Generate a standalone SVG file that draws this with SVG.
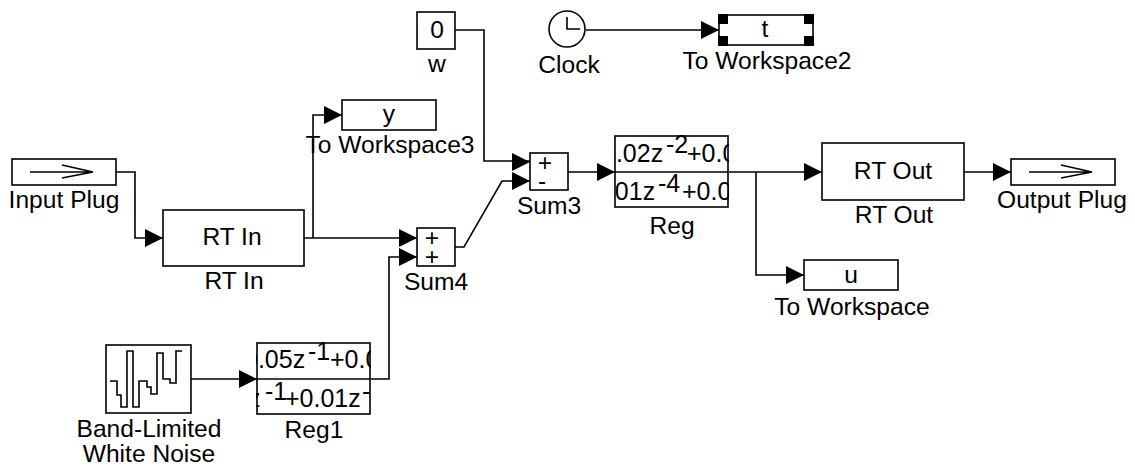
<svg xmlns="http://www.w3.org/2000/svg" width="1135" height="468" viewBox="0 0 1135 468">
<style>
text{font-family:"Liberation Sans",Arial,sans-serif;font-size:24.6px;fill:#000;text-anchor:middle}
.b{fill:#fff;stroke:#000;stroke-width:1.6}
.l{fill:none;stroke:#000;stroke-width:1.6}
.h{fill:#000;stroke:none}
.s{font-size:25px;text-anchor:start}
.u{font-size:25px}
</style>
<defs>
<clipPath id="c1"><rect x="615" y="135" width="114" height="73"/></clipPath>
<clipPath id="c2"><rect x="256" y="342" width="115" height="73"/></clipPath>
<polygon id="a" class="h" points="0,0 -18,-9 -18,9"/>
</defs>
<rect width="1135" height="468" fill="#fff"/>
<g id="connectors">
<path class="l" d="M455 30H484V161H530"/>
<use href="#a" x="530" y="162"/>
<path class="l" d="M586 30H719"/>
<use href="#a" x="719" y="30"/>
<path class="l" d="M116 172H135V238H163"/>
<use href="#a" x="163" y="238"/>
<path class="l" d="M304 238H417"/>
<use href="#a" x="417" y="238"/>
<path class="l" d="M313 238V115H342"/>
<use href="#a" x="342" y="115"/>
<path class="l" d="M191 379H257"/>
<use href="#a" x="257" y="379"/>
<path class="l" d="M371 379H389V257H417"/>
<use href="#a" x="417" y="257"/>
<path class="l" d="M455 247H464L502 181H530"/>
<use href="#a" x="530" y="181"/>
<path class="l" d="M568 172H615"/>
<use href="#a" x="615" y="172"/>
<path class="l" d="M729 172H822"/>
<use href="#a" x="822" y="172"/>
<path class="l" d="M756 172V275H804"/>
<use href="#a" x="804" y="275"/>
<path class="l" d="M964 172H1011"/>
<use href="#a" x="1011" y="172"/>
</g>
<g id="w"><rect class="b" x="417" y="12" width="38" height="37"/><text x="437" y="38">0</text><text x="437" y="72">w</text></g>
<g id="clock"><circle class="b" cx="567" cy="29" r="18"/><path class="l" d="M567 17V29H580"/><text x="569" y="73">Clock</text></g>
<g id="toworkspace2"><rect class="b" x="719" y="15" width="94" height="30"/><path class="h" d="M718 14h10v10h-10zM718 36h10v10h-10zM804 14h10v10h-10zM804 36h10v10h-10z"/><text x="765" y="37">t</text><text x="767" y="69">To Workspace2</text></g>
<g id="toworkspace3"><rect class="b" x="342" y="100" width="94" height="30"/><text x="389" y="122">y</text><text x="390" y="153">To Workspace3</text></g>
<g id="inputplug"><rect class="b" x="12" y="159" width="104" height="26"/><path class="l" d="M30 172H93M62 165L93 172L62 178"/><text x="64" y="208">Input Plug</text></g>
<g id="rtin"><rect class="b" x="163" y="210" width="141" height="56"/><text x="232" y="245">RT In</text><text x="234" y="289">RT In</text></g>
<g id="sum4"><rect class="b" x="417" y="228" width="38" height="38"/><text x="432" y="246">+</text><text x="432" y="265">+</text><text x="436" y="290">Sum4</text></g>
<g id="sum3"><rect class="b" x="530" y="153" width="38" height="37"/><text x="545" y="171">+</text><text x="542" y="189">-</text><text x="549" y="214">Sum3</text></g>
<g id="reg"><rect class="b" x="615" y="136" width="113" height="71"/>
<g clip-path="url(#c1)"><path class="l" d="M615 172H728"/><text class="s" y="162"><tspan x="602">0.02z</tspan><tspan class="u" x="666" y="153">-2</tspan><tspan x="687" y="162">+0.02</tspan></text><text class="s" y="200"><tspan x="594">0.01z</tspan><tspan class="u" x="658" y="192">-4</tspan><tspan x="682" y="200">+0.03</tspan></text></g>
<text x="672" y="234">Reg</text></g>
<g id="rtout"><rect class="b" x="822" y="143" width="142" height="57"/><text x="893" y="179">RT Out</text><text x="894" y="223">RT Out</text></g>
<g id="outputplug"><rect class="b" x="1011" y="159" width="104" height="26"/><path class="l" d="M1029 172H1092M1061 165L1092 172L1061 178"/><text x="1062" y="208">Output Plug</text></g>
<g id="toworkspace"><rect class="b" x="804" y="260" width="94" height="30"/><text x="851" y="283">u</text><text x="852" y="315">To Workspace</text></g>
<g id="noise"><rect class="b" x="106" y="345" width="85" height="68"/><path class="l" d="M110 381H117V395H121V407H127V351H133V407H139V381H147V387H151V394H157V353H163V379H170V383H176V351H182"/><text x="149" y="437">Band-Limited</text><text x="149" y="462">White Noise</text></g>
<g id="reg1"><rect class="b" x="257" y="343" width="113" height="71"/>
<g clip-path="url(#c2)"><path class="l" d="M257 379H370"/><text class="s" y="368"><tspan x="244">0.05z</tspan><tspan class="u" x="308" y="360">-1</tspan><tspan x="330" y="368">+0.02</tspan></text><text class="s" y="407"><tspan x="248">z</tspan><tspan class="u" x="265" y="400">-1</tspan><tspan x="285" y="407">+0.01z</tspan><tspan class="u" x="362" y="400">-1</tspan></text></g>
<text x="314" y="438">Reg1</text></g>
</svg>
